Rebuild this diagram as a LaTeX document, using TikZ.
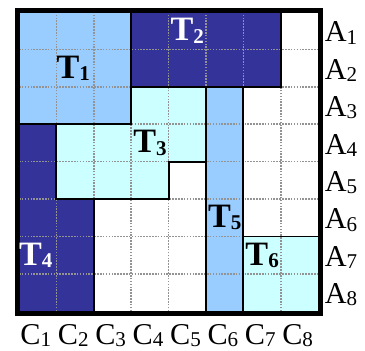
\documentclass[tikz,border=0pt]{standalone}
\usepackage{fontspec}
\setmainfont{Liberation Serif}
\definecolor{cnavy}{HTML}{333399}
\definecolor{clight}{HTML}{99CCFF}
\definecolor{ccyan}{HTML}{CCFFFF}
\newcommand{\lowidx}[1]{\raisebox{-0.15ex}{\fontsize{16}{16}\selectfont #1}}

\begin{document}
\begin{tikzpicture}[
  axislab/.style={font=\fontsize{23}{25}\selectfont, inner sep=0pt},
  tasklab/.style={font=\fontsize{26}{28}\selectfont\bfseries, inner sep=0pt},
  gridline/.style={gray!85, densely dotted, line width=1.2pt},
  border/.style={black, line width=1.4pt, line join=miter}
]
\useasboundingbox (-0.508,-1.043) rectangle (9.251,8.321);

% ============================================================
% Task regions (cell = 1 unit, row A1 on top)
\fill[clight] (0,5) rectangle (3,8);                 % T1
\fill[cnavy] (3,6) rectangle (7,8);                  % T2
\fill[ccyan] (3,6) -- (5,6) -- (5,4) -- (4,4) -- (4,3)
  -- (1,3) -- (1,5) -- (3,5) -- cycle;               % T3
\fill[cnavy] (0,5) -- (1,5) -- (1,3) -- (2,3) -- (2,0)
  -- (0,0) -- cycle;                                 % T4
\fill[clight] (5,0) rectangle (6,6);                 % T5
\fill[ccyan] (6,0) rectangle (8,2);                  % T6

% Dotted cell grid
\foreach \k in {1,...,7} {
  \draw[gridline] (\k,0) -- (\k,8);
  \draw[gridline] (0,\k) -- (8,\k);
}

% Region borders
\draw[border] (0,5) -- (3,5) -- (3,8);
\draw[border] (3,6) -- (7,6) -- (7,8);
\draw[border] (1,5) -- (1,3) -- (4,3) -- (4,4) -- (5,4);
\draw[border] (5,6) -- (5,0);
\draw[border] (6,6) -- (6,0);
\draw[border] (2,3) -- (2,0);
\draw[border] (6,2) -- (8,2);

% Outer frame
\draw[line width=0.13cm] (-0.05,-0.05) rectangle (8.05,8.05);

% ============================================================
% Task labels
\node[tasklab] (t1) at (1.45,6.5) {T\lowidx{1}};
\node[tasklab, white] (t2) at (4.5,7.5) {T\lowidx{2}};
\node[tasklab] (t3) at (3.5,4.5) {T\lowidx{3}};
\node[tasklab, white] (t4) at (0.45,1.5) {T\lowidx{4}};
\node[tasklab] (t5) at (5.5,2.5) {T\lowidx{5}};
\node[tasklab] (t6) at (6.5,1.5) {T\lowidx{6}};

% Row labels A1..A8 and column labels C1..C8
\foreach \k in {1,...,8} {
  \node[axislab, anchor=base west] (a\k) at (8.17,8.2-\k) {A\lowidx{\k}};
  \node[axislab, anchor=base] (c\k) at (\k-0.55,-0.89) {C\lowidx{\k}};
}

\end{tikzpicture}
\end{document}
